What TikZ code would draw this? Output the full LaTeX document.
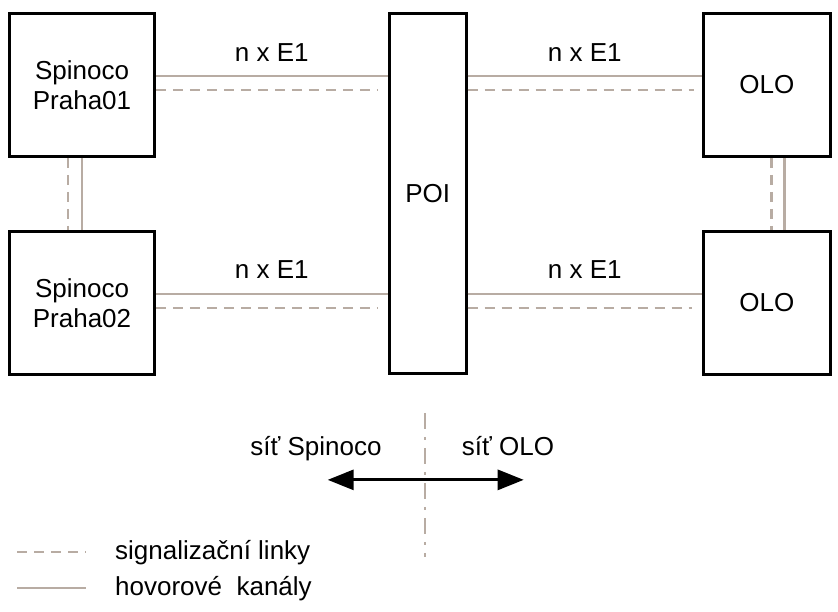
\documentclass[tikz,border=0pt]{standalone}
\usepackage{fontspec}
\setmainfont{Liberation Sans}
\usepackage{xcolor}
\definecolor{taupe}{RGB}{184,172,163}
\usetikzlibrary{arrows.meta, positioning}

\begin{document}
\begin{tikzpicture}[
    x=1pt, y=1pt,
    node distance=72pt,
    box/.style={rectangle, draw=black, line width=2.7pt, minimum width=145pt, minimum height=143pt, align=center, font=\fontsize{26}{30}\selectfont},
    txt/.style={inner sep=0pt, font=\fontsize{26}{30}\selectfont},
    call/.style={draw=taupe, line width=2.2pt},
    signal/.style={draw=taupe, line width=2.2pt, dash pattern=on 10pt off 7pt},
    divider/.style={draw=taupe, line width=2pt, dash pattern=on 16pt off 8pt on 3pt off 8pt},
    arrow/.style={{Triangle[length=26pt,width=20pt]}-{Triangle[length=26pt,width=20pt]}, line width=3pt, color=black}
]
\useasboundingbox (0,0) rectangle (838,-611);

\node[box] (praha1) at (82,-85) {Spinoco\\Praha01};
\node[box, below=of praha1] (praha2) {Spinoco\\Praha02};
\node[box, minimum width=77pt, minimum height=360pt, right=232pt of praha1.north east, anchor=north west] (poi) {POI};
\node[box, minimum width=127pt, right=234.5pt of poi.north east, anchor=north west] (olo1) {OLO};
\node[box, minimum width=127pt, below=of olo1] (olo2) {OLO};

\draw[call] ([yshift=9pt]praha1.east) -- ([yshift=9pt]praha1.east -| poi.west) node[txt, midway, above=13pt] {n x E1};
\draw[signal] ([yshift=-5pt]praha1.east) -- ([yshift=-5pt,xshift=-10pt]praha1.east -| poi.west);
\draw[call] ([yshift=9pt]olo1.west -| poi.east) -- ([yshift=9pt]olo1.west) node[txt, midway, above=13pt] {n x E1};
\draw[signal] ([yshift=-5pt]olo1.west -| poi.east) -- ([yshift=-5pt,xshift=-8pt]olo1.west);

\draw[call] ([yshift=9pt]praha2.east) -- ([yshift=9pt]praha2.east -| poi.west) node[txt, midway, above=14pt] {n x E1};
\draw[signal] ([yshift=-5pt]praha2.east) -- ([yshift=-5pt,xshift=-10pt]praha2.east -| poi.west);
\draw[call] ([yshift=9pt]olo2.west -| poi.east) -- ([yshift=9pt]olo2.west) node[txt, midway, above=14pt] {n x E1};
\draw[signal] ([yshift=-5pt]olo2.west -| poi.east) -- ([yshift=-5pt,xshift=-10pt]olo2.west);

\draw[call] (praha1.south) -- (praha2.north);
\draw[signal] ([xshift=-14pt]praha1.south) -- ([xshift=-14pt]praha2.north);
\draw[call] ([xshift=17.5pt]olo1.south) -- ([xshift=17.5pt]olo2.north);
\draw[signal] ([xshift=4.5pt]olo1.south) -- ([xshift=4.5pt]olo2.north);

\coordinate (divtop) at ([xshift=-2.5pt,yshift=-38pt]poi.south);
\coordinate (divbot) at ([xshift=-2.5pt,yshift=-182pt]poi.south);
\draw[divider] (divtop) -- (divbot);

\coordinate (wleft) at ([xshift=-100pt,yshift=-105pt]poi.south);
\coordinate (wright) at ([xshift=96pt,yshift=-105pt]poi.south);
\draw[arrow] (wleft) -- (wright);
\node[txt, anchor=base] (spinet) at (316,-455) {síť Spinoco};
\node[txt, anchor=base] (olonet) at (508,-455) {síť OLO};

\node[txt, anchor=base west] (sigtext) at (115,-559) {signalizační linky};
\node[txt, anchor=base west] (calltext) at (115,-595) {hovorové\ \ kanály};
\draw[signal] ([xshift=-98pt,yshift=7pt]sigtext.base west) -- ([xshift=-29pt,yshift=7pt]sigtext.base west);
\draw[call] ([xshift=-98pt,yshift=7pt]calltext.base west) -- ([xshift=-29pt,yshift=7pt]calltext.base west);
\end{tikzpicture}
\end{document}
